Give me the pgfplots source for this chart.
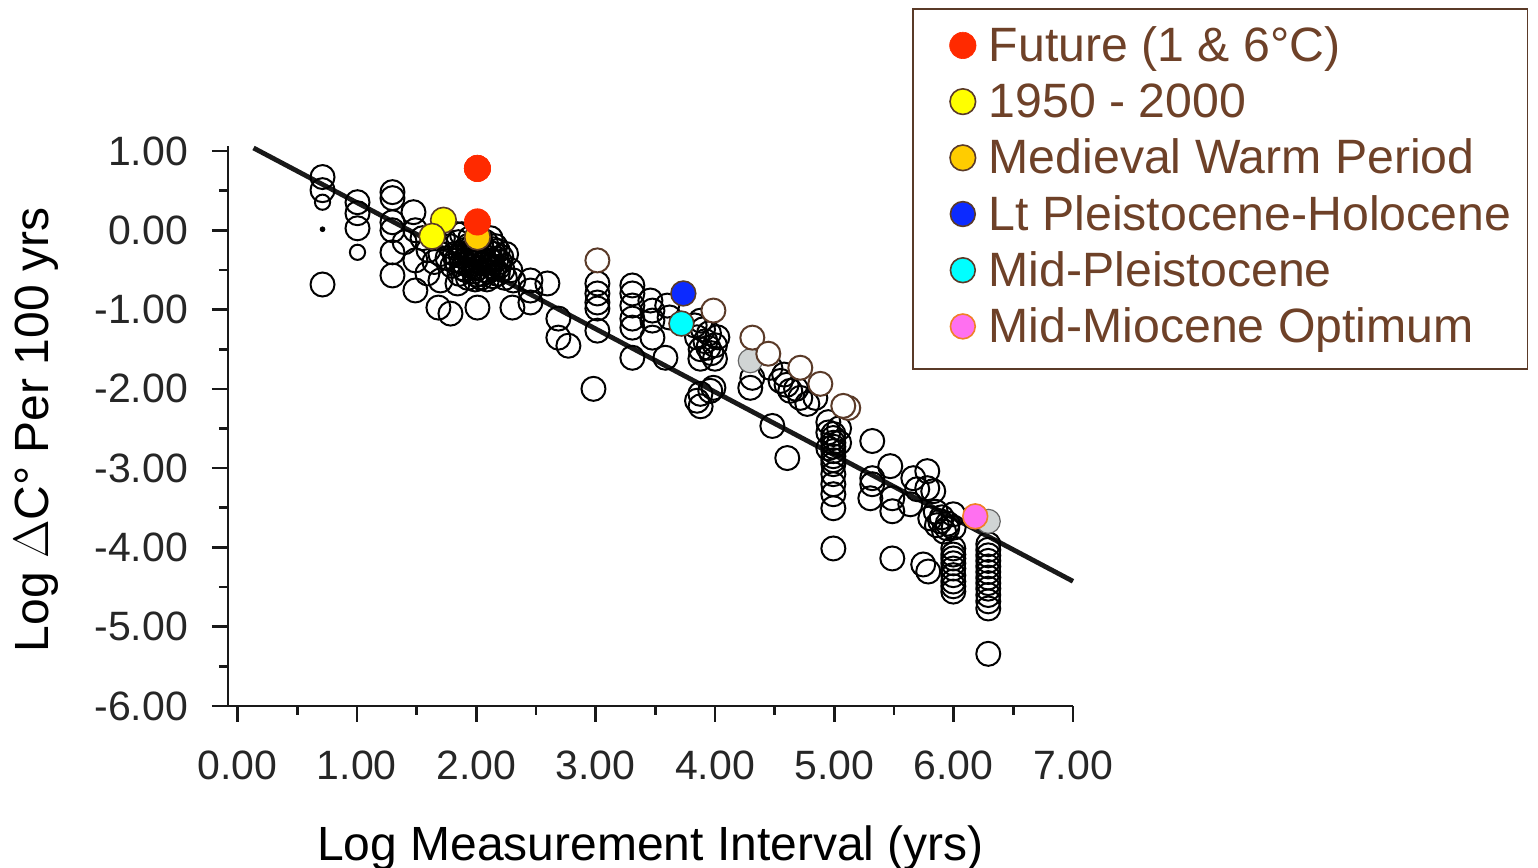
\documentclass[border=0pt]{standalone}
\usepackage{pgfplots}
\pgfplotsset{compat=1.18}
\usepackage{fontspec}
\setmainfont{Liberation Sans}
\definecolor{legbrown}{RGB}{110,65,40}
\definecolor{edgebrown}{RGB}{90,58,40}
\definecolor{futred}{RGB}{255,42,0}
\definecolor{yel}{RGB}{255,255,0}
\definecolor{mwp}{RGB}{255,204,0}
\definecolor{lph}{RGB}{12,42,255}
\definecolor{mpc}{RGB}{0,255,255}
\definecolor{mmo}{RGB}{255,112,240}
\definecolor{mmoedge}{RGB}{240,128,40}
\definecolor{grayfill}{RGB}{208,212,212}
\begin{document}
\begin{tikzpicture}
\path[use as bounding box] (0,0) rectangle (769pt,434pt);
\begin{axis}[
  at={(114pt,81pt)}, anchor=south west,
  width=422.5pt, height=280pt, scale only axis,
  xmin=-0.08, xmax=7, ymin=-6, ymax=1.063,
  axis x line*=bottom, axis y line*=left,
  axis line style={line width=1.4pt, black!90, -},
  xtick={0,1,...,7}, ytick={-6,-5,...,1},
  minor xtick={0.5,1.5,...,6.5}, minor ytick={-5.5,-4.5,...,0.5},
  tick align=outside,
  major tick length=8pt, minor tick length=4.5pt,
  every tick/.style={line width=1.3pt, black!90},
  /pgf/number format/assume math mode=true,
  /pgf/number format/.cd, fixed, fixed zerofill, precision=2, /pgfplots/.cd,
  ticklabel style={font=\fontsize{20.5}{24}\selectfont, text=black!85},
  xticklabel style={yshift=-11pt},
  yticklabel style={xshift=-8.5pt},
  xlabel={Log Measurement Interval (yrs)},
  ylabel={Log $\Delta$C° Per 100 yrs},
  label style={font=\fontsize{24}{28}\selectfont},
  xlabel style={at={(axis description cs:0.5,-0.2125)}, anchor=north, inner sep=0pt},
  ylabel style={at={(axis description cs:-0.2535,0.493)}, anchor=north, rotate=0, inner sep=0pt},
  clip=false,
  legend style={at={(axis description cs:0.8095,1.246)}, anchor=north west,
    draw=edgebrown, line width=0.8pt, inner xsep=8pt, inner ysep=7pt,
    font=\fontsize{24.1}{28}\selectfont, text=legbrown, row sep=2.7pt,
    nodes={inner sep=0pt, text height=19.2pt, text depth=6.2pt},
    /tikz/every even column/.append style={column sep=10.5pt}},
  legend cell align=left,
  legend image code/.code={\path[draw=none,fill=none] (0pt,-6pt) rectangle (30pt,6pt); \draw[#1] plot coordinates {(17pt,1.5pt)};},
]
% open circles
\addplot[only marks, mark=o, mark size=6pt, mark options={line width=1pt, draw=black}, forget plot] coordinates {
(0.712,0.671) (0.712,0.506) (0.712,-0.684)
(1.005,0.354) (1.005,0.215) (1.005,0.025)
(1.298,0.481) (1.298,0.405) (1.298,0.101) (1.298,0.0) (1.298,-0.278) (1.298,-0.570)
(1.474,0.228) (1.49,0.0) (1.49,-0.38) (1.49,-0.759) (1.591,-0.544) (1.683,-0.975) (1.784,-1.051) (1.70,-0.633) (1.40,-0.15) (1.60,-0.25) (1.65,-0.40) (1.55,-0.10)
(1.843,-0.671) (2.010,-0.975)
(1.78,-0.20) (1.82,-0.30) (1.85,-0.15) (1.88,-0.40) (1.90,-0.25) (1.92,-0.35) (1.95,-0.45) (1.97,-0.20) (2.00,-0.30) (2.02,-0.40) (2.05,-0.25) (2.07,-0.50) (2.10,-0.35) (2.12,-0.45) (2.15,-0.30) (2.18,-0.55) (2.20,-0.40) (2.22,-0.50) (1.80,-0.45) (1.86,-0.55) (1.93,-0.60) (1.98,-0.52) (2.04,-0.60) (2.09,-0.62) (2.14,-0.58) (1.76,-0.35) (1.84,-0.05) (2.08,-0.15) (2.16,-0.20) (2.25,-0.30) (1.95,-0.10) (2.03,-0.10) (1.70,-0.30) (1.72,-0.10) (2.24,-0.60) (1.88,-0.05) (2.12,-0.10) (1.99,-0.62) (2.06,-0.42) (1.91,-0.50)
(1.87,-0.32) (1.89,-0.48) (1.94,-0.28) (1.96,-0.38) (1.98,-0.42) (2.01,-0.48) (2.03,-0.34) (2.05,-0.55) (2.06,-0.32) (2.08,-0.40) (2.10,-0.52) (2.11,-0.28) (2.13,-0.38) (2.15,-0.48) (2.17,-0.36) (2.19,-0.46) (1.93,-0.20) (1.99,-0.24) (2.04,-0.18) (2.14,-0.24) (1.83,-0.38) (1.90,-0.42) (2.00,-0.56) (2.21,-0.34) (2.18,-0.26)
(2.286,-0.506) (2.303,-0.975) (2.31,-0.633) (2.454,-0.633) (2.454,-0.76) (2.596,-0.671) (2.454,-0.911) (2.688,-1.114) (2.688,-1.354) (2.772,-1.456)
(3.015,-0.671) (3.015,-0.797) (3.015,-0.911) (3.015,-0.987) (3.015,-1.266) (2.982,-2.000)
(3.308,-0.696) (3.308,-0.797) (3.308,-0.949) (3.308,-1.114) (3.308,-1.228) (3.308,-1.608)
(3.459,-0.886) (3.476,-1.013) (3.476,-1.139) (3.476,-1.354) (3.585,-1.608) (3.60,-0.95) (3.62,-1.10)
(3.88,-1.14) (3.90,-1.25) (3.95,-1.30) (3.85,-1.35) (3.92,-1.40) (4.00,-1.45) (3.88,-1.50) (3.97,-1.55) (4.02,-1.35) (3.83,-1.20) (3.945,-1.481) (3.878,-1.620) (3.961,-2.025) (3.878,-2.063) (3.987,-1.987) (3.85,-2.15) (3.88,-2.22) (4.00,-1.62)
(4.313,-1.861) (4.296,-1.987) (4.464,-1.734) (4.481,-2.468) (4.606,-2.873) (4.631,-2.025) (4.715,-2.114) (4.774,-2.190) (4.841,-2.114) (4.55,-1.90) (4.60,-1.95) (4.68,-2.00) (4.58,-1.82)
(4.992,-2.57) (4.992,-2.62) (4.992,-2.68) (4.992,-2.73) (4.992,-2.785) (4.992,-2.85) (4.992,-2.90) (4.992,-2.95) (4.992,-3.076) (4.992,-3.203) (4.992,-3.329) (4.992,-3.506) (4.992,-4.013) (5.04,-2.68) (4.95,-2.75) (5.04,-2.50) (4.95,-2.55) (4.95,-2.42)
(5.318,-2.658) (5.318,-3.127) (5.318,-3.203) (5.302,-3.38) (5.469,-2.975) (5.486,-3.380) (5.486,-3.544) (5.486,-4.139)
(5.662,-3.127) (5.779,-3.038) (5.695,-3.266) (5.779,-3.253) (5.829,-3.291) (5.637,-3.456) (5.804,-3.633) (5.745,-4.215) (5.787,-4.304) (5.888,-3.671) (5.946,-3.759) (5.997,-3.582)
(5.85,-3.55) (5.90,-3.62) (5.95,-3.70) (6.0,-3.75) (5.92,-3.80) (5.86,-3.72)
(5.997,-4.013) (5.997,-4.09) (5.997,-4.139) (5.997,-4.20) (5.997,-4.266) (5.997,-4.35) (5.997,-4.43) (5.997,-4.49) (5.997,-4.557)
(6.29,-3.96) (6.29,-4.03) (6.29,-4.10) (6.29,-4.17) (6.29,-4.24) (6.29,-4.31) (6.29,-4.38) (6.29,-4.45) (6.29,-4.52) (6.29,-4.60) (6.29,-4.68) (6.29,-4.77) (6.29,-5.342)
};
% small circles
\addplot[only marks, mark=o, mark size=3.8pt, mark options={line width=1pt, draw=black}, forget plot] coordinates {(0.712,0.354) (1.005,-0.278)};
\addplot[only marks, mark=*, mark size=1.2pt, black, forget plot] coordinates {(0.712,0.013)};
% gray filled
\addplot[only marks, mark=*, mark size=6pt, mark options={line width=0.6pt, draw=black!60, fill=grayfill}, forget plot] coordinates {(4.296,-1.646) (6.29,-3.671)};
% regression line
\addplot[line width=2.4pt, black!90, no marks, forget plot] coordinates {(0.134,1.038) (7,-4.427)};
% brown-edged white circles
\addplot[only marks, mark=*, mark size=6pt, mark options={line width=1pt, draw=edgebrown, fill=white}, forget plot] coordinates {(3.015,-0.380) (3.987,-1.013) (4.313,-1.354) (4.447,-1.557) (4.715,-1.734) (4.883,-1.937) (5.117,-2.241) (5.075,-2.215)};
% coloured series
\addplot[only marks, mark=*, mark size=6.6pt, mark options={draw=futred, fill=futred, line width=0.3pt}] coordinates {(2.01,0.78)};
\addlegendentry{Future (1 \& 6°C)}
\addplot[only marks, mark=*, mark size=6.4pt, mark options={draw=edgebrown, fill=yel, line width=0.8pt}] coordinates {(1.725,0.127) (1.63,-0.076)};
\addlegendentry{1950 - 2000}
\addplot[only marks, mark=*, mark size=6.4pt, mark options={draw=edgebrown, fill=mwp, line width=0.8pt}] coordinates {(2.01,-0.085)};
\addlegendentry{Medieval Warm Period}
\addplot[only marks, mark=*, mark size=6.2pt, mark options={draw=edgebrown, fill=lph, line width=0.8pt}] coordinates {(3.735,-0.797)};
\addlegendentry{Lt Pleistocene-Holocene}
\addplot[only marks, mark=*, mark size=6.2pt, mark options={draw=edgebrown, fill=mpc, line width=0.8pt}] coordinates {(3.719,-1.177)};
\addlegendentry{Mid-Pleistocene}
\addplot[only marks, mark=*, mark size=6.2pt, mark options={draw=mmoedge, fill=mmo, line width=0.8pt}] coordinates {(6.181,-3.608)};
\addlegendentry{Mid-Miocene Optimum}
\addplot[only marks, mark=*, mark size=6.6pt, mark options={draw=futred, fill=futred, line width=0.3pt}, forget plot] coordinates {(2.01,0.78) (2.01,0.105)};
\end{axis}
\end{tikzpicture}
\end{document}
